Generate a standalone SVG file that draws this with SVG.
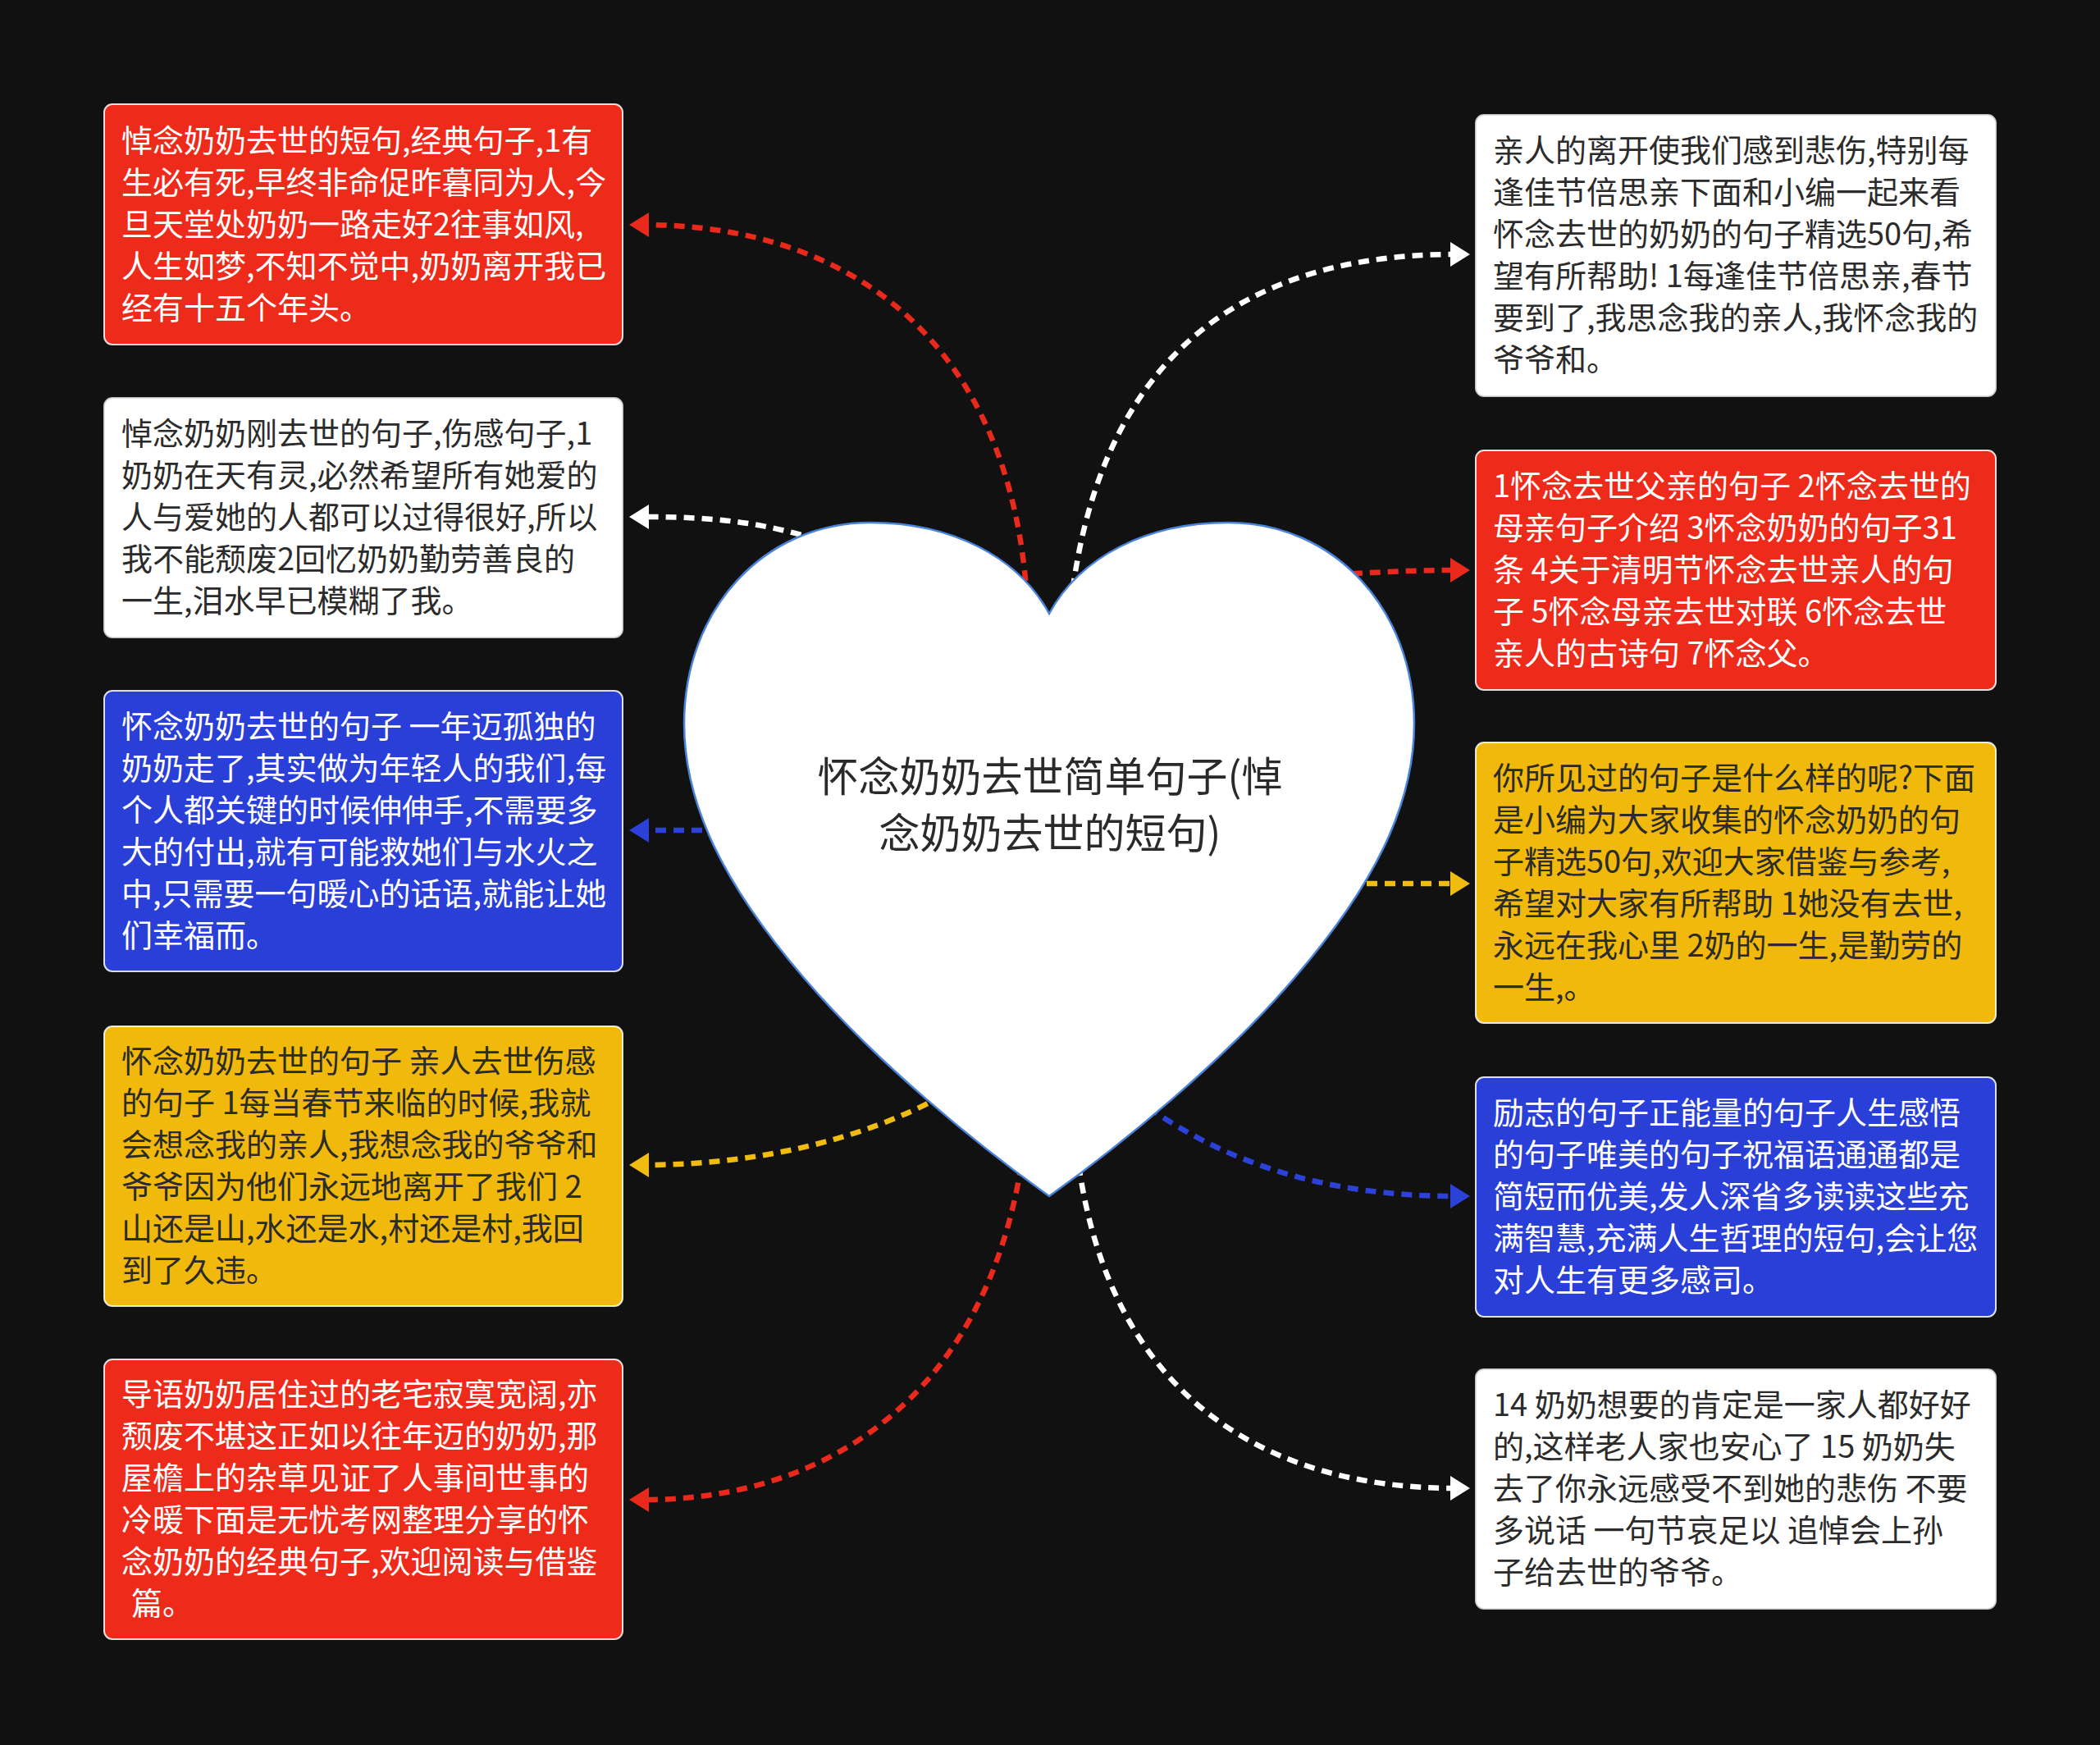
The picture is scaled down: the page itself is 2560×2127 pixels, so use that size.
<svg xmlns="http://www.w3.org/2000/svg" width="2560" height="2127" viewBox="0 0 2560 2127">
<defs>
<style>
.bg{fill:#111111}
.box{stroke:#ffffff;stroke-width:2;stroke-opacity:0.85}
.red{fill:#EE2A1B}
.blue{fill:#2A3FD7}
.yellow{fill:#F0B90C}
.white{fill:#FFFFFF;stroke:#dddddd}
.t{font-family:"Noto Sans CJK SC","Noto Sans",sans-serif;font-size:38px}
.tl{fill:#FFFFFF}
.td{fill:#2B2B2B}
.c{fill:none;stroke-width:6.5;stroke-dasharray:13 9}
.cr{stroke:#E8291C}
.cw{stroke:#FFFFFF}
.cb{stroke:#2C41D8}
.cy{stroke:#F0BC10}
.heart{fill:#FFFFFF;stroke:#4A84DA;stroke-width:2.5}
.ht{font-family:"Noto Sans CJK SC","Noto Sans",sans-serif;font-size:50px;fill:#2A2A2A}
</style>
<marker id="aR" markerUnits="userSpaceOnUse" markerWidth="26" markerHeight="32" refX="6" refY="16" orient="auto"><path d="M0,1 L24,16 L0,31 z" fill="#E8291C"/></marker>
<marker id="aW" markerUnits="userSpaceOnUse" markerWidth="26" markerHeight="32" refX="6" refY="16" orient="auto"><path d="M0,1 L24,16 L0,31 z" fill="#FFFFFF"/></marker>
<marker id="aB" markerUnits="userSpaceOnUse" markerWidth="26" markerHeight="32" refX="6" refY="16" orient="auto"><path d="M0,1 L24,16 L0,31 z" fill="#2C41D8"/></marker>
<marker id="aY" markerUnits="userSpaceOnUse" markerWidth="26" markerHeight="32" refX="6" refY="16" orient="auto"><path d="M0,1 L24,16 L0,31 z" fill="#F0BC10"/></marker>
</defs>
<rect class="bg" x="0" y="0" width="2560" height="2127"/>

<g id="connectors">
<path class="c cr" d="M1252 730 C1232 420 1040 274 785 274" marker-end="url(#aR)"/>
<path class="c cw" d="M1060 680 C960 642 900 630 785 630" marker-end="url(#aW)"/>
<path class="c cb" d="M900 1012 L785 1012" marker-end="url(#aB)"/>
<path class="c cy" d="M1150 1335 C1050 1390 920 1420 785 1420" marker-end="url(#aY)"/>
<path class="c cr" d="M1245 1420 C1200 1700 1010 1828 785 1828" marker-end="url(#aR)"/>
<path class="c cw" d="M1305 740 C1335 470 1480 310 1774 310" marker-end="url(#aW)"/>
<path class="c cr" d="M1560 705 C1640 700 1700 695 1774 695" marker-end="url(#aR)"/>
<path class="c cy" d="M1600 1077 L1774 1077" marker-end="url(#aY)"/>
<path class="c cb" d="M1400 1350 C1500 1420 1620 1458 1774 1458" marker-end="url(#aB)"/>
<path class="c cw" d="M1315 1420 C1355 1700 1540 1814 1774 1814" marker-end="url(#aW)"/>
</g>

<g id="center">
<path class="heart" d="M1279 748 C1241 678 1159 637 1061 637 C931 637 834 743 834 882 C834 980 882 1078 980 1192 C1068 1295 1192 1396 1279 1458 C1366 1396 1490 1295 1578 1192 C1676 1078 1724 980 1724 882 C1724 743 1627 637 1497 637 C1399 637 1317 678 1279 748 Z"/>
<text class="ht" text-anchor="middle"><tspan x="1280" y="965">怀念奶奶去世简单句子(悼</tspan><tspan x="1280" y="1034">念奶奶去世的短句)</tspan></text>
</g>

<g id="node-l1">
<rect class="box red" x="127" y="127" width="632" height="293" rx="10"/>
<text class="t tl"><tspan x="148" y="185">悼念奶奶去世的短句,经典句子,1有</tspan><tspan x="148" y="236">生必有死,早终非命促昨暮同为人,今</tspan><tspan x="148" y="287">旦天堂处奶奶一路走好2往事如风,</tspan><tspan x="148" y="338">人生如梦,不知不觉中,奶奶离开我已</tspan><tspan x="148" y="389">经有十五个年头。</tspan></text>
</g>
<g id="node-l2">
<rect class="box white" x="127" y="485" width="632" height="292" rx="10"/>
<text class="t td"><tspan x="148" y="542">悼念奶奶刚去世的句子,伤感句子,1</tspan><tspan x="148" y="593">奶奶在天有灵,必然希望所有她爱的</tspan><tspan x="148" y="644">人与爱她的人都可以过得很好,所以</tspan><tspan x="148" y="695">我不能颓废2回忆奶奶勤劳善良的</tspan><tspan x="148" y="746">一生,泪水早已模糊了我。</tspan></text>
</g>
<g id="node-l3">
<rect class="box blue" x="127" y="842" width="632" height="342" rx="10"/>
<text class="t tl"><tspan x="148" y="899">怀念奶奶去世的句子 一年迈孤独的</tspan><tspan x="148" y="950">奶奶走了,其实做为年轻人的我们,每</tspan><tspan x="148" y="1001">个人都关键的时候伸伸手,不需要多</tspan><tspan x="148" y="1052">大的付出,就有可能救她们与水火之</tspan><tspan x="148" y="1103">中,只需要一句暖心的话语,就能让她</tspan><tspan x="148" y="1154">们幸福而。</tspan></text>
</g>
<g id="node-l4">
<rect class="box yellow" x="127" y="1251" width="632" height="341" rx="10"/>
<text class="t td"><tspan x="148" y="1307">怀念奶奶去世的句子 亲人去世伤感</tspan><tspan x="148" y="1358">的句子 1每当春节来临的时候,我就</tspan><tspan x="148" y="1409">会想念我的亲人,我想念我的爷爷和</tspan><tspan x="148" y="1460">爷爷因为他们永远地离开了我们 2</tspan><tspan x="148" y="1511">山还是山,水还是水,村还是村,我回</tspan><tspan x="148" y="1562">到了久违。</tspan></text>
</g>
<g id="node-l5">
<rect class="box red" x="127" y="1657" width="632" height="341" rx="10"/>
<text class="t tl"><tspan x="148" y="1713">导语奶奶居住过的老宅寂寞宽阔,亦</tspan><tspan x="148" y="1764">颓废不堪这正如以往年迈的奶奶,那</tspan><tspan x="148" y="1815">屋檐上的杂草见证了人事间世事的</tspan><tspan x="148" y="1866">冷暖下面是无忧考网整理分享的怀</tspan><tspan x="148" y="1917">念奶奶的经典句子,欢迎阅读与借鉴</tspan><tspan x="160" y="1968">篇。</tspan></text>
</g>

<g id="node-r1">
<rect class="box white" x="1799" y="140" width="634" height="343" rx="10"/>
<text class="t td"><tspan x="1820" y="197">亲人的离开使我们感到悲伤,特别每</tspan><tspan x="1820" y="248">逢佳节倍思亲下面和小编一起来看</tspan><tspan x="1820" y="299">怀念去世的奶奶的句子精选50句,希</tspan><tspan x="1820" y="350">望有所帮助! 1每逢佳节倍思亲,春节</tspan><tspan x="1820" y="401">要到了,我思念我的亲人,我怀念我的</tspan><tspan x="1820" y="452">爷爷和。</tspan></text>
</g>
<g id="node-r2">
<rect class="box red" x="1799" y="549" width="634" height="292" rx="10"/>
<text class="t tl"><tspan x="1820" y="606">1怀念去世父亲的句子 2怀念去世的</tspan><tspan x="1820" y="657">母亲句子介绍 3怀念奶奶的句子31</tspan><tspan x="1820" y="708">条 4关于清明节怀念去世亲人的句</tspan><tspan x="1820" y="759">子 5怀念母亲去世对联 6怀念去世</tspan><tspan x="1820" y="810">亲人的古诗句 7怀念父。</tspan></text>
</g>
<g id="node-r3">
<rect class="box yellow" x="1799" y="905" width="634" height="342" rx="10"/>
<text class="t td"><tspan x="1820" y="962">你所见过的句子是什么样的呢?下面</tspan><tspan x="1820" y="1013">是小编为大家收集的怀念奶奶的句</tspan><tspan x="1820" y="1064">子精选50句,欢迎大家借鉴与参考,</tspan><tspan x="1820" y="1115">希望对大家有所帮助 1她没有去世,</tspan><tspan x="1820" y="1166">永远在我心里 2奶的一生,是勤劳的</tspan><tspan x="1820" y="1217">一生,。</tspan></text>
</g>
<g id="node-r4">
<rect class="box blue" x="1799" y="1313" width="634" height="292" rx="10"/>
<text class="t tl"><tspan x="1820" y="1370">励志的句子正能量的句子人生感悟</tspan><tspan x="1820" y="1421">的句子唯美的句子祝福语通通都是</tspan><tspan x="1820" y="1472">简短而优美,发人深省多读读这些充</tspan><tspan x="1820" y="1523">满智慧,充满人生哲理的短句,会让您</tspan><tspan x="1820" y="1574">对人生有更多感司。</tspan></text>
</g>
<g id="node-r5">
<rect class="box white" x="1799" y="1669" width="634" height="292" rx="10"/>
<text class="t td"><tspan x="1820" y="1726">14 奶奶想要的肯定是一家人都好好</tspan><tspan x="1820" y="1777">的,这样老人家也安心了 15 奶奶失</tspan><tspan x="1820" y="1828">去了你永远感受不到她的悲伤 不要</tspan><tspan x="1820" y="1879">多说话 一句节哀足以 追悼会上孙</tspan><tspan x="1820" y="1930">子给去世的爷爷。</tspan></text>
</g>
</svg>
